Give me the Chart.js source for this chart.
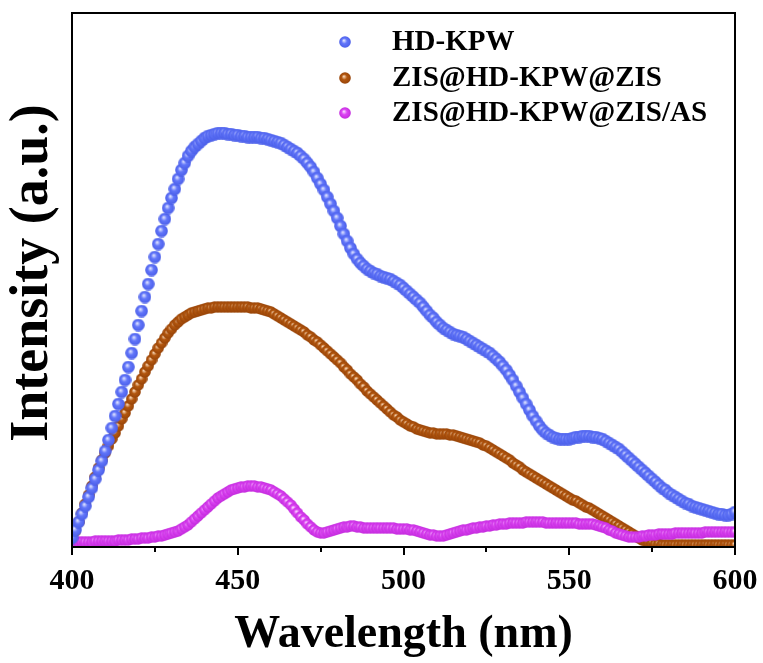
<!DOCTYPE html>
<html><head><meta charset="utf-8">
<script src="https://cdn.jsdelivr.net/npm/chart.js@4.4.1/dist/chart.umd.min.js"></script>
<style>html,body{margin:0;padding:0;background:#fff}#wrap{width:763px;height:663px}</style>
</head><body><div id="wrap"><canvas id="c" width="763" height="663"></canvas></div>
<script>
// ---- data (1 nm sampling) ----
const wavelengthStart = 400;
const wavelengthStep = 1;
const xTickLabels = [400, 450, 500, 550, 600];
const seriesNames = ['HD-KPW', 'ZIS@HD-KPW@ZIS', 'ZIS@HD-KPW@ZIS/AS'];
const hdKpw = [
 9,17,25,33,41,50,59,68,77,86,
 96,107,119,131,143,155,167,180,194,208,
 222,236,250,263,277,290,303,316,328,339,
 349,358,368,377,384,391,396,400,403,406,
 409,411,412,413,414,414,414,413,413,412,
 412,411,411,410,410,410,410,409,409,408,
 407,406,405,404,402,400,398,396,394,391,
 388,384,380,375,369,363,357,350,343,336,
 329,321,313,306,299,293,288,284,281,278,
 276,274,273,271,270,269,268,266,264,262,
 259,256,253,250,247,244,240,236,232,229,
 225,222,219,217,215,213,212,211,210,208,
 206,204,202,200,198,196,194,191,188,185,
 181,177,172,167,161,155,149,143,137,131,
 126,121,117,114,112,110,109,108,108,108,
 108,109,110,110,111,111,111,110,110,109,
 108,106,104,102,100,98,95,92,89,86,
 83,80,77,74,71,68,65,62,59,57,
 54,52,50,48,46,44,43,41,40,39,
 38,37,36,35,34,33,33,32,32,33,
 35];
const zisHdKpwZis = [
 8,16,25,34,43,52,61,70,79,87,
 94,101,108,114,121,128,134,141,148,155,
 162,168,175,181,187,193,199,204,209,214,
 218,222,225,228,230,232,234,235,236,237,
 238,239,239,240,240,240,240,240,240,240,
 240,240,240,240,239,239,239,238,237,236,
 235,233,231,229,227,225,223,221,219,217,
 215,212,210,207,205,202,199,196,193,190,
 187,184,180,177,173,170,167,163,160,156,
 153,150,147,144,141,138,135,132,130,127,
 125,123,121,120,118,117,116,115,114,114,
 113,113,113,113,112,112,111,110,109,108,
 107,106,105,104,102,101,99,97,95,93,
 91,89,87,84,82,80,77,75,73,71,
 69,67,65,63,61,59,57,55,53,51,
 49,47,46,44,42,40,39,37,35,33,
 31,29,27,25,23,21,19,17,15,13,
 11,9,7,6,5,4,3,3,2,2,
 2,2,2,2,2,2,2,2,2,2,
 2,2,2,2,2,2,2,2,2,2,
 2];
const zisHdKpwZisAs = [
 5,5,5,5,5,5,5,6,6,6,
 6,6,6,6,7,7,7,7,8,8,
 8,9,9,9,10,10,11,11,12,13,
 14,15,16,18,20,22,25,28,31,34,
 37,40,43,46,49,51,53,55,57,58,
 59,60,60,61,61,61,60,60,59,58,
 57,55,53,51,48,45,42,38,34,30,
 27,23,20,17,15,14,14,15,16,17,
 18,19,20,20,21,21,20,20,19,19,
 19,19,19,19,19,19,19,19,18,18,
 18,18,17,17,16,15,14,13,12,12,
 11,11,11,12,13,14,15,16,17,17,
 18,19,19,20,20,21,21,22,22,23,
 23,23,24,24,24,24,24,25,25,25,
 25,25,25,24,24,24,24,24,24,24,
 24,24,24,23,23,23,23,23,22,21,
 20,19,17,16,14,13,12,11,10,10,
 10,10,11,11,12,12,12,13,13,13,
 13,13,14,14,14,14,14,14,14,14,
 14,15,15,15,15,15,15,15,15,15,
 15];

// ---- styling ----
const FONT = "'Liberation Serif', 'Times New Roman', serif";
function makeSprite(base, light, dark, d) {
  const c = document.createElement('canvas');
  c.width = d; c.height = d;
  const g = c.getContext('2d');
  const r = d / 2;
  const grad = g.createRadialGradient(r * 0.8, r * 0.72, 0, r, r, r);
  grad.addColorStop(0, light);
  grad.addColorStop(0.45, base);
  grad.addColorStop(1, dark);
  g.fillStyle = grad;
  g.beginPath(); g.arc(r, r, r - 0.2, 0, Math.PI * 2); g.fill();
  return c;
}
const spriteBlue = makeSprite('#6276fa', '#f0f2ff', '#4a5ee8', 13);
const spriteOrange = makeSprite('#b3570f', '#ffe4c8', '#964308', 12);
const spriteMagenta = makeSprite('#dc44f3', '#fde6ff', '#c22adc', 12);
const legendSprites = [
  makeSprite('#6276fa', '#f0f2ff', '#4a5ee8', 12),
  makeSprite('#b3570f', '#ffe4c8', '#964308', 12),
  makeSprite('#dc44f3', '#fde6ff', '#c22adc', 12)
];

function toPoints(arr) {
  return arr.map((v, i) => ({x: wavelengthStart + i * wavelengthStep, y: v}));
}

const framePlugin = {
  id: 'frame',
  afterDatasetsDraw(chart) {
    const {ctx, chartArea: a, scales: {x}} = chart;
    ctx.save();
    ctx.strokeStyle = '#000';
    ctx.lineWidth = 2;
    ctx.strokeRect(a.left, a.top, a.right - a.left, a.bottom - a.top);
    for (let v = 400; v <= 600; v += 25) {
      const px = Math.round(x.getPixelForValue(v));
      const len = xTickLabels.includes(v) ? 8 : 5;
      ctx.beginPath();
      ctx.moveTo(px, a.bottom);
      ctx.lineTo(px, a.bottom + len);
      ctx.stroke();
    }
    ctx.restore();
  },
  afterDraw(chart) {
    const {ctx} = chart;
    ctx.save();
    ctx.fillStyle = '#000';
    ctx.font = "bold 54px " + FONT;
    ctx.textAlign = 'center';
    ctx.textBaseline = 'middle';
    ctx.translate(33, 273);
    ctx.rotate(-Math.PI / 2);
    ctx.fillText('Intensity (a.u.)', 0, 0);
    ctx.restore();

    ctx.save();
    ctx.font = "bold 29px " + FONT;
    ctx.fillStyle = '#000';
    ctx.textBaseline = 'middle';
    ctx.textAlign = 'left';
    const rows = [42, 78, 113];
    chart.data.datasets.forEach((ds, i) => {
      const s = legendSprites[i];
      ctx.drawImage(s, 345 - s.width / 2, rows[i] - s.height / 2);
      ctx.fillText(ds.label, 392, rows[i] + 1);
    });
    ctx.restore();
  }
};

const cfg = {
  type: 'line',
  data: {
    datasets: [
      {label: seriesNames[0], data: toPoints(hdKpw), pointStyle: spriteBlue, order: 0},
      {label: seriesNames[1], data: toPoints(zisHdKpwZis), pointStyle: spriteOrange, order: 2},
      {label: seriesNames[2], data: toPoints(zisHdKpwZisAs), pointStyle: spriteMagenta, order: 1}
    ].map(d => Object.assign(d, {showLine: false, pointRadius: 6, pointHoverRadius: 6, clip: 0}))
  },
  options: {
    responsive: false,
    animation: false,
    devicePixelRatio: 1,
    layout: {padding: {top: 13, right: 28, left: 0, bottom: 0}},
    plugins: {legend: {display: false}, tooltip: {enabled: false}},
    scales: {
      x: {
        type: 'linear', min: 400, max: 600,
        border: {display: false},
        grid: {display: false, drawTicks: false},
        ticks: {
          stepSize: 50, autoSkip: false, maxRotation: 0, padding: 16,
          color: '#000', font: {family: FONT, size: 30, weight: 'bold'},
          callback: v => xTickLabels.includes(v) ? String(v) : ''
        },
        title: {display: true, text: 'Wavelength (nm)', color: '#000',
          font: {family: FONT, size: 46, weight: 'bold'}, padding: {top: 0, bottom: 0}},
        afterFit(s) { s.height = 116; s.paddingLeft = 0; s.paddingRight = 0; }
      },
      y: {
        min: 0, max: 534,
        border: {display: false},
        grid: {display: false, drawTicks: false},
        ticks: {display: false},
        title: {display: false},
        afterFit(s) { s.width = 72; }
      }
    }
  },
  plugins: [framePlugin]
};
new Chart(document.getElementById('c'), cfg);
</script></body></html>
